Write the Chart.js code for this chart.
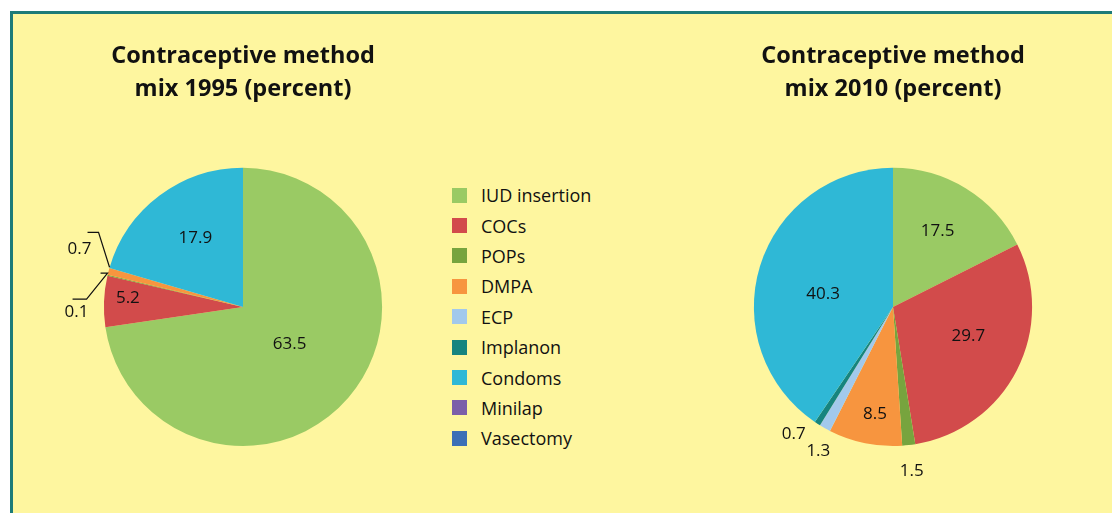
<!DOCTYPE html>
<html>
<head>
<meta charset="utf-8">
<script src="https://cdn.jsdelivr.net/npm/chart.js@4"></script>
<style>
  html, body { margin: 0; padding: 0; background: #fff; width: 1112px; height: 513px; overflow: hidden; font-family: "Open Sans", sans-serif; }
  #frame { position: absolute; left: 10px; top: 11px; right: 0; bottom: 0; background: #fef69f; border-left: 3px solid #1d7b78; border-top: 3px solid #1d7b78; }
  .pie { position: absolute; top: 30px; width: 400px; height: 456px; }
  #pie1 { left: 43px; }
  #pie2 { left: 693px; }
  #legend { position: absolute; left: 452px; top: 180px; list-style: none; margin: 0; padding: 0; }
  #legend li { height: 30.4px; display: flex; align-items: center; font-size: 18px; color: #111; }
  #legend span { width: 15px; height: 15px; margin-right: 14px; }
</style>
</head>
<body>
<div id="frame"></div>
<div class="pie" id="pie1"><canvas id="graph-1995"></canvas></div>
<ul id="legend"></ul>
<div class="pie" id="pie2"><canvas id="graph-2010"></canvas></div>
<script>
// Data
const methods = ["IUD insertion", "COCs", "POPs", "DMPA", "ECP", "Implanon", "Condoms", "Minilap", "Vasectomy"];
const colors = ["#9aca64", "#d24b4b", "#77a43e", "#f7953f", "#a2c9ec", "#16847f", "#2fb8d6", "#7b5fa9", "#3b6fb6"];
const mix1995 = [63.5, 5.2, 0.1, 0.7, 0, 0, 17.9, 0, 0];
const mix2010 = [17.5, 29.7, 1.5, 8.5, 1.3, 0.7, 40.3, 0, 0];

// Legend
const legend = document.getElementById("legend");
methods.forEach((m, i) => {
  const li = document.createElement("li");
  li.innerHTML = '<span style="background:' + colors[i] + '"></span>' + m;
  legend.appendChild(li);
});

// value labels on slices
const sliceLabels = {
  id: "sliceLabels",
  afterDatasetsDraw(chart, args, opts) {
    const ctx = chart.ctx;
    const meta = chart.getDatasetMeta(0);
    const values = chart.data.datasets[0].data;
    ctx.save();
    ctx.font = '17px "Open Sans"';
    ctx.fillStyle = "#111";
    ctx.strokeStyle = "#111";
    ctx.lineWidth = 1.2;
    ctx.textAlign = "center";
    ctx.textBaseline = "middle";
    meta.data.forEach((arc, i) => {
      if (!values[i]) return;
      const mid = (arc.startAngle + arc.endAngle) / 2;
      const lead = opts.leaders && opts.leaders[i];
      if (lead) {
        const ex = arc.x + Math.cos(mid) * arc.outerRadius;
        const ey = arc.y + Math.sin(mid) * arc.outerRadius;
        ctx.beginPath();
        lead.line.forEach(([dx, dy], k) => {
          if (k) ctx.lineTo(ex + dx, ey + dy);
          else ctx.moveTo(ex + dx, ey + dy);
        });
        ctx.stroke();
        ctx.fillText(String(values[i]), ex + lead.text[0], ey + lead.text[1]);
        return;
      }
      const p = (opts.place && opts.place[i]) || [0.6, 0];
      const a = mid + p[1] * Math.PI / 180;
      ctx.fillText(String(values[i]), arc.x + Math.cos(a) * arc.outerRadius * p[0], arc.y + Math.sin(a) * arc.outerRadius * p[0]);
    });
    ctx.restore();
  }
};

function makePie(id, year, values, place, leaders) {
  return new Chart(document.getElementById(id).getContext("2d"), {
    type: "pie",
    data: {
      labels: methods,
      datasets: [
        {
          data: values,
          backgroundColor: colors,
          borderWidth: 0,
          hoverOffset: 0,
          offset: 0,
        },
      ],
    },
    options: {
      responsive: true,
      maintainAspectRatio: false,
      animation: false,
      layout: { padding: { bottom: 40 } },
      plugins: {
        legend: { display: false },
        tooltip: { enabled: false },
        title: {
          display: true,
          text: ["Contraceptive method", "mix " + year + " (percent)"],
          color: "#111",
          font: { family: "Open Sans", size: 23.5, weight: "bold", lineHeight: 1.4 },
          padding: { top: 10, bottom: 62 },
        },
        sliceLabels: { place: place, leaders: leaders },
      },
    },
    plugins: [sliceLabels],
  });
}

//GRAPH 1995
const chart1995 = makePie("graph-1995", 1995, mix1995,
  { 0: [0.43, -2], 1: [0.83, 2], 6: [0.6, 2] },
  {
    3: { line: [[1, -4], [-10, -39], [-21, -39]], text: [-29, -22] },
    2: { line: [[-7, -2], [0, -2], [-21, 24], [-35, 24]], text: [-31, 37] },
  });

//GRAPH 2010
const chart2010 = makePie("graph-2010", 2010, mix2010,
  { 0: [0.63, -1], 1: [0.58, -6], 2: [1.19, 0], 3: [0.78, -2], 4: [1.17, -2], 5: [1.16, 5], 6: [0.51, -7] },
  null);
</script>
</body>
</html>
